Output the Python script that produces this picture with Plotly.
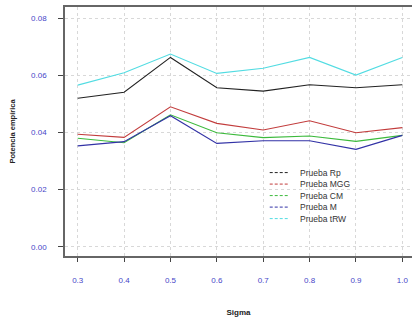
import plotly.graph_objects as go

# Sigma values on the x axis
sigma = [0.3, 0.4, 0.5, 0.6, 0.7, 0.8, 0.9, 1.0]

# Empirical power of each test
prueba_rp = [0.0520, 0.0541, 0.0663, 0.0557, 0.0545, 0.0567, 0.0557, 0.0567]
prueba_mgg = [0.0394, 0.0383, 0.0490, 0.0432, 0.0409, 0.0441, 0.0399, 0.0417]
prueba_cm = [0.0380, 0.0364, 0.0462, 0.0399, 0.0382, 0.0388, 0.0369, 0.0390]
prueba_m = [0.0353, 0.0368, 0.0459, 0.0362, 0.0371, 0.0371, 0.0341, 0.0390]
prueba_trw = [0.0566, 0.0609, 0.0675, 0.0607, 0.0625, 0.0663, 0.0601, 0.0663]

series_names = ["Prueba Rp", "Prueba MGG", "Prueba CM", "Prueba M", "Prueba tRW"]
series_values = [prueba_rp, prueba_mgg, prueba_cm, prueba_m, prueba_trw]
series_colors = ["#222222", "#c23c3c", "#3cba3c", "#3232a6", "#52dce2"]

x_ticks = [0.3, 0.4, 0.5, 0.6, 0.7, 0.8, 0.9, 1.0]
x_ticklabels = ["0.3", "0.4", "0.5", "0.6", "0.7", "0.8", "0.9", "1.0"]
y_ticks = [0.00, 0.02, 0.04, 0.06, 0.08]
y_ticklabels = ["0.00", "0.02", "0.04", "0.06", "0.08"]

fig = go.Figure()
for name, vals, col in zip(series_names, series_values, series_colors):
    fig.add_trace(go.Scatter(
        x=sigma, y=vals, mode="lines", name=name,
        line=dict(color=col, width=1.1), showlegend=False,
    ))

# Compact legend: dashed sample line + label per series
leg_x0, leg_x1, leg_text_x = 0.59, 0.642, 0.671
leg_top, leg_step = 0.335, 0.0462
for i, (name, col) in enumerate(zip(series_names, series_colors)):
    yy = leg_top - i * leg_step
    fig.add_shape(type="line", xref="paper", yref="paper",
                  x0=leg_x0, x1=leg_x1, y0=yy, y1=yy,
                  line=dict(color=col, width=1, dash="3px,2px"))
    fig.add_annotation(xref="paper", yref="paper", x=leg_text_x, y=yy,
                       text=name, showarrow=False, xanchor="left", yanchor="middle",
                       font=dict(family="Liberation Sans, Arial", size=8.5, color="#333333"))

tick_font = dict(family="Liberation Sans, Arial", size=8, color="#4646c8")

fig.update_layout(
    width=412, height=322, autosize=False,
    margin=dict(l=65, r=0, t=7, b=66),
    paper_bgcolor="white", plot_bgcolor="white",
    showlegend=False,
    xaxis=dict(
        range=[0.2726, 1.0209], tickvals=x_ticks, ticktext=x_ticklabels,
        tickfont=tick_font, ticks="outside", ticklen=4, tickcolor="#444444",
        ticklabelstandoff=12,
        showline=True, linecolor="#666666", linewidth=1.5, mirror=True,
        showgrid=True, gridcolor="#d8d8d8", griddash="dot", gridwidth=1,
        zeroline=False,
        title=dict(text="<b>Sigma</b>", standoff=25,
                   font=dict(family="Liberation Sans, Arial", size=8, color="#222222")),
    ),
    yaxis=dict(
        range=[-0.00326, 0.08396], tickvals=y_ticks, ticktext=y_ticklabels,
        tickfont=tick_font, ticks="outside", ticklen=5, tickcolor="#444444",
        ticklabelstandoff=10,
        showline=True, linecolor="#666666", linewidth=1.5, mirror=False,
        showgrid=True, gridcolor="#d8d8d8", griddash="dot", gridwidth=1,
        zeroline=False,
        title=dict(text="<b>Potencia empírica</b>", standoff=14,
                   font=dict(family="Liberation Sans, Arial", size=7.5, color="#222222")),
    ),
)

fig.write_html("out.html")
